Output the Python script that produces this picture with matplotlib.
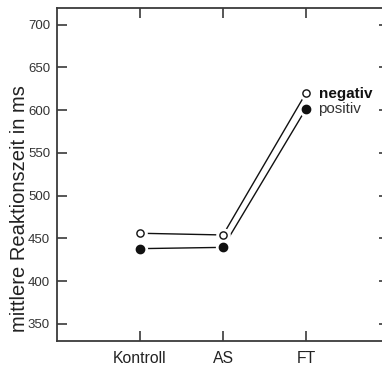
import matplotlib
matplotlib.use("Agg")
import matplotlib.pyplot as plt

plt.rcParams['font.family'] = ['Liberation Sans', 'DejaVu Sans']

conditions = ["Kontroll", "AS", "FT"]
negativ = [456, 454, 620]
positiv = [438, 439.5, 601.5]
yticks = [350, 400, 450, 500, 550, 600, 650, 700]

W, H = 382, 365
fig = plt.figure(figsize=(W / 100, H / 100), dpi=100)
ax = fig.add_axes([57 / W, 1 - 341 / H, (389 - 57) / W, (341 - 7.5) / H])

x = list(range(len(conditions)))
dark = "#3a3a3a"

# connecting lines, then a white halo so the lines stop short of the markers
ax.plot(x, negativ, color="#111111", lw=1.0, zorder=2)
ax.plot(x, positiv, color="#111111", lw=1.0, zorder=2)
ax.plot(x, negativ, ls="none", marker="o", ms=9.5, mfc="white", mec="white", zorder=3)
ax.plot(x, positiv, ls="none", marker="o", ms=10, mfc="white", mec="white", zorder=3)
ax.plot(x, negativ, ls="none", marker="o", ms=5.2, mfc="white", mec="#111111", mew=1.0, zorder=4)
ax.plot(x, positiv, ls="none", marker="o", ms=6.0, mfc="#111111", mec="#111111", zorder=4)

# series labels beside the FT points
ax.annotate("negativ", (x[-1], negativ[-1]), xytext=(9, -1), textcoords="offset points",
            fontsize=11, fontweight="bold", color="#111111", va="center", ha="left")
ax.annotate("positiv", (x[-1], positiv[-1]), xytext=(9, 0), textcoords="offset points",
            fontsize=11, color="#333333", va="center", ha="left")

ax.set_xlim(-1, 3)
ax.set_ylim(330, 720)
ax.set_xticks(x)
ax.set_xticklabels(conditions, fontsize=11.3, color="#222222")
ax.set_yticks(yticks)
ax.set_yticklabels([str(v) for v in yticks], fontsize=9.5, color="#333333")
ax.tick_params(direction="in", length=7.5, width=1.2, color=dark,
               top=True, right=True, labeltop=False, labelright=False)
ax.tick_params(axis="x", pad=7)
ax.tick_params(axis="y", pad=5)
for s in ax.spines.values():
    s.set_color(dark)
    s.set_linewidth(1.3)

ax.set_ylabel("mittlere Reaktionszeit in ms", fontsize=14.5, color="#222222")
ax.yaxis.set_label_coords(-0.0845, (341 - 209) / (341 - 7.5))

fig.savefig("out.png", dpi=100)
